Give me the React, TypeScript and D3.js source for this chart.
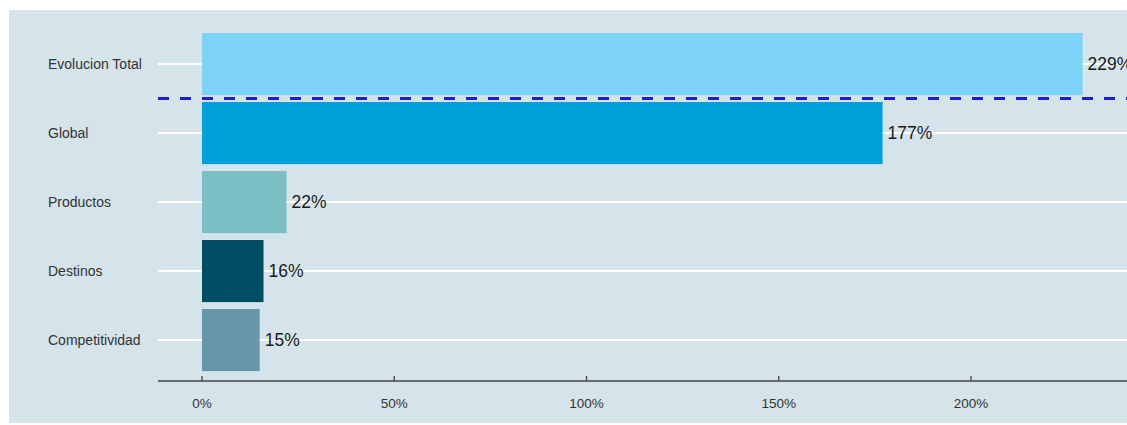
import React from "react";
import * as d3 from "d3";

const categories = ["Evolucion Total", "Global", "Productos", "Destinos", "Competitividad"];
const values = [229, 177, 22, 16, 15];
const barColors = ["#7dd3f5", "#00a0d8", "#7bbfc4", "#004d64", "#6995a8"];
const tickValues = [0, 50, 100, 150, 200];

const W = 1127;
const H = 425;

export default function App() {
  const x = d3.scaleLinear().domain([0, 200]).range([202, 971]);
  const y = d3.scaleBand<string>().domain(categories).range([29.55, 374.55]).paddingInner(0.1).paddingOuter(0.05);
  const plotLeft = 158;
  const plotRight = W;
  const axisY = 381;
  const bw = y.bandwidth();
  const step = y.step();
  const dashY = (y(categories[0]) as number) + bw + (step - bw) / 2;
  const font = "'Liberation Sans', Arial, Helvetica, sans-serif";

  return (
    <svg width={W} height={H} style={{ position: "absolute", left: 0, top: 0, fontFamily: font }}>
      <rect x={0} y={0} width={W} height={H} fill="#ffffff" />
      <rect x={9} y={10} width={W - 9} height={413} fill="#d5e3eb" />
      {categories.map((c) => (
        <line key={"g" + c} x1={plotLeft} x2={plotRight} y1={(y(c) as number) + bw / 2} y2={(y(c) as number) + bw / 2} stroke="#ffffff" strokeWidth={2} />
      ))}
      {categories.map((c, i) => (
        <rect key={"b" + c} x={x(0)} y={y(c) as number} width={x(values[i]) - x(0)} height={bw} fill={barColors[i]} />
      ))}
      {categories.map((c, i) => (
        <text key={"v" + c} x={x(values[i]) + 5} y={(y(c) as number) + bw / 2} dy="0.35em" fontSize={17.5} fill="#1a1a1a">
          {values[i] + "%"}
        </text>
      ))}
      {categories.map((c) => (
        <text key={"l" + c} x={48} y={(y(c) as number) + bw / 2} dy="0.35em" fontSize={14} fill="#333333">
          {c}
        </text>
      ))}
      <line x1={plotLeft} x2={plotRight} y1={dashY} y2={dashY} stroke="#1d1dd6" strokeWidth={3} strokeDasharray="11,11" />
      <line x1={plotLeft} x2={plotRight} y1={axisY} y2={axisY} stroke="#444" strokeWidth={1.3} />
      {tickValues.map((t) => (
        <g key={"t" + t}>
          <line x1={x(t)} x2={x(t)} y1={axisY - 5} y2={axisY} stroke="#444" strokeWidth={1.3} />
          <text x={x(t)} y={403} dy="0.35em" textAnchor="middle" fontSize={13.5} fill="#333333">
            {t + "%"}
          </text>
        </g>
      ))}
    </svg>
  );
}
